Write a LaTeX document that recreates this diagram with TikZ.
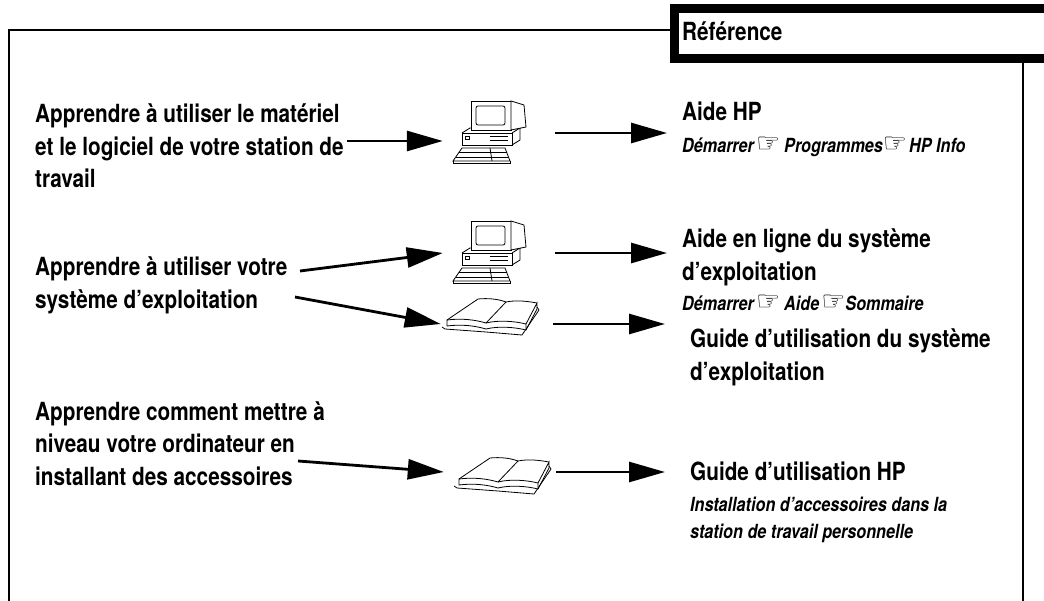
\documentclass[tikz,border=0pt]{standalone}
\usepackage{fontspec}
\setmainfont{TeX Gyre Heros}[FakeStretch=0.83]
\newfontfamily\handfont{DejaVu Sans}
\usetikzlibrary{arrows.meta,positioning}

\newcommand\hand{{\handfont\fontsize{27}{27}\selectfont\raisebox{0pt}{☞}}}

\tikzset{
  frame/.style={line width=2pt},
  flow/.style={line width=2.8pt, -{Triangle[length=36pt,width=20pt]}},
  % multi-line nodes sit on the baseline of their last line
  task/.style={anchor=base west, align=left, inner sep=0pt,
    font=\fontsize{25}{32.5}\selectfont\bfseries},
  menupath/.style={anchor=base west, align=left, inner sep=0pt,
    font=\fontsize{19.5}{27}\selectfont\bfseries\itshape},
  icon/.style={minimum width=112pt, minimum height=62pt, inner sep=0pt},
  % line drawings of the workstation and of the manual
  computer/.pic={
    \begin{scope}[line width=0.8pt]
      \draw (-28,0) rectangle (22,12);
      \draw (-28,0) -- (-20,-5) -- (30,-5) -- (22,0);
      \draw (22,12) -- (30,7) -- (30,-5);
      \draw (-25,3) rectangle (-21,6);
      \draw (0,3) -- (18,3) (0,7) -- (18,7);
      \draw[fill=white] (-19,-32) rectangle (21,-3);
      \draw[fill=white] (21,-32) -- (34,-28) -- (36,-6) -- (21,-3) -- cycle;
      \draw[rounded corners=2pt] (-14,-27) rectangle (15,-8);
      \draw (-28,15) -- (15,15) -- (20,28) -- (-37,28) -- cycle;
      \draw (-37,28) -- (-37,30) -- (20,30) -- (20,28);
      \draw (-31,19.5) -- (16.7,19.5) (-34,24) -- (18.3,24);
      \draw (0,15) -- (2,28);
    \end{scope}
  },
  book/.pic={
    \begin{scope}[line width=0.8pt]
      \draw (-48,11) -- (-45,13) -- (-4,16) -- (32,19) -- (49,-6) -- (47,-9);
      \draw[fill=white] (-43,4) .. controls (-28,2) and (-14,4) .. (-4,7)
        .. controls (8,4) and (24,5) .. (36,8) -- (36,14)
        .. controls (24,11) and (8,10) .. (-4,13)
        .. controls (-14,10) and (-28,8) .. (-43,10) -- cycle;
      \draw (36,8) -- (47,-13) -- (47,-7) -- (36,14);
      \draw (-43,4) -- (-12,-17) .. controls (-2,-18) and (8,-17) .. (16,-14)
        .. controls (26,-16) and (36,-15) .. (47,-13);
      \draw (-4,7) -- (16,-14);
    \end{scope}
  }
}

\begin{document}
\begin{tikzpicture}[x=1pt,y=-1pt]
\useasboundingbox (0,0) rectangle (1044,601);

% page frame and tab
\draw[frame] (9,601) -- (9,30) -- (670,30);
\draw[frame] (1023,63) -- (1023,601);
\draw[line width=9pt] (674.5,8.5) rectangle (1070,58.5);
\node[task] (tab) at (682,41) {Référence};

% what the reader wants to do
\node[task] (learnHW) at (35,188) {Apprendre à utiliser le matériel\\et le logiciel de votre station de\\travail};
\node[task] (learnOS) at (35,308.5) {Apprendre à utiliser votre\\système d’exploitation};
\node[task] (learnUp) at (35,485) {Apprendre comment mettre à\\niveau votre ordinateur en\\installant des accessoires};

% icons
\node[icon] (pc1) at (499,133) {};
\pic at (490,133) {computer};
\node[icon] (pc2) at (499,253) {};
\pic at (490,253) {computer};
\node[icon] (book2) at (497,324) {};
\pic at (490,316) {book};
\node[icon] (book3) at (500,472) {};
\pic at (502,475) {book};

% where to look
\node[task] (helpHP) at (682,121) {Aide HP};
\node[menupath] (helpHPmenu) at ([yshift=-32pt]helpHP.base west) {Démarrer\hspace{2pt}\hand\hspace{4pt}Programmes\hand\hspace{2pt}HP Info};
\node[task] (helpOS) at (682,280.5) {Aide en ligne du système\\d’exploitation};
\node[menupath] (helpOSmenu) at (682,311) {Démarrer\hspace{2pt}\hand\hspace{4pt}Aide\hspace{2pt}\hand\hspace{0pt}Sommaire};
\node[task] (guideOS) at (690,380.5) {Guide d’utilisation du système\\d’exploitation};
\node[task] (guideHP) at (690,480) {Guide d’utilisation HP};
\node[menupath] (guideHPmenu) at (690,538) {Installation d’accessoires dans la\\station de travail personnelle};

% arrows
\coordinate (s1) at (347,141);
\coordinate (s2) at (300,271);
\coordinate (s3) at (295,297);
\coordinate (s4) at (298,461);
\draw[flow] (s1) -- (s1 -| pc1.west);
\draw[flow] (pc1.east) -- ([xshift=-15pt]pc1.east -| helpHP.west);
\draw[flow] (s2) -- (pc2.west);
\draw[flow] (s3) -- (book2.west);
\draw[flow] (pc2.east) -- ([xshift=-15pt]pc2.east -| helpOS.west);
\draw[flow] (book2.east) -- ([xshift=-25pt]book2.east -| guideOS.west);
\draw[flow] (s4) -- (book3.west);
\draw[flow] (book3.east) -- ([xshift=-25pt]book3.east -| guideHP.west);
\end{tikzpicture}
\end{document}
